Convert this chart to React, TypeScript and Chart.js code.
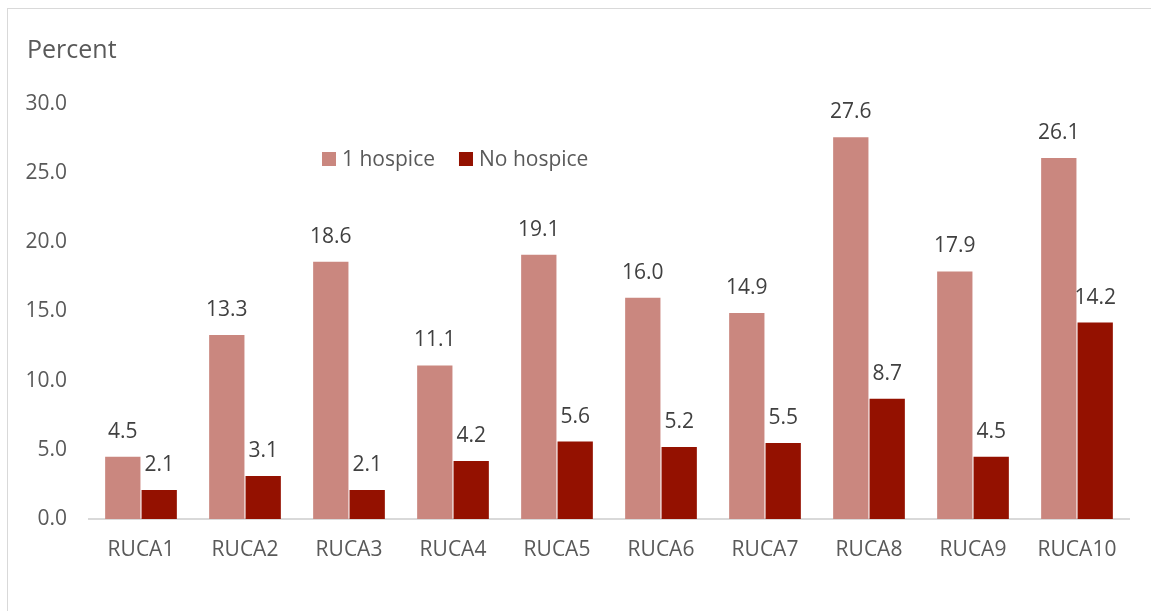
import React, { useEffect, useRef } from "react";
import { Chart, registerables } from "chart.js";

Chart.register(...registerables);

const categories = ["RUCA1", "RUCA2", "RUCA3", "RUCA4", "RUCA5", "RUCA6", "RUCA7", "RUCA8", "RUCA9", "RUCA10"];
const oneHospice = [4.5, 13.3, 18.6, 11.1, 19.1, 16.0, 14.9, 27.6, 17.9, 26.1];
const noHospice = [2.1, 3.1, 2.1, 4.2, 5.6, 5.2, 5.5, 8.7, 4.5, 14.2];
const seriesNames = ["1 hospice", "No hospice"];
const seriesColors = ["#CA877F", "#941100"];
const yTitle = "Percent";
const yMin = 0;
const yMax = 30;
const yStep = 5;

const FONT = "'Open Sans', 'Noto Sans', sans-serif";

const labelsPlugin = {
  id: "customText",
  afterDatasetsDraw(chart: any) {
    const ctx = chart.ctx;
    ctx.save();
    // data labels
    ctx.font = `21px ${FONT}`;
    ctx.fillStyle = "#404040";
    ctx.textAlign = "center";
    ctx.textBaseline = "alphabetic";
    chart.data.datasets.forEach((ds: any, di: number) => {
      const meta = chart.getDatasetMeta(di);
      meta.data.forEach((bar: any, i: number) => {
        ctx.fillText(Number(ds.data[i]).toFixed(1), bar.x, bar.y - 19);
      });
    });
    // title
    ctx.font = `25px ${FONT}`;
    ctx.fillStyle = "#595959";
    ctx.textAlign = "left";
    ctx.fillText(yTitle, 27, 58);
    // legend
    const area = chart.chartArea;
    ctx.font = `21px ${FONT}`;
    let x = area.left + 233;
    const top = 152;
    seriesNames.forEach((name, i) => {
      ctx.fillStyle = seriesColors[i];
      ctx.fillRect(x, top, 14, 14);
      ctx.fillStyle = "#595959";
      ctx.fillText(name, x + 20, top + 14);
      x += 20 + ctx.measureText(name).width + 24;
    });
    ctx.restore();
  },
};

export default function App() {
  const ref = useRef<HTMLCanvasElement | null>(null);
  useEffect(() => {
    if (!ref.current) return;
    const chart = new Chart(ref.current, {
      type: "bar",
      data: {
        labels: categories,
        datasets: [
          {
            label: seriesNames[0],
            data: oneHospice,
            backgroundColor: seriesColors[0],
            categoryPercentage: 0.7,
            barPercentage: 0.97,
          },
          {
            label: seriesNames[1],
            data: noHospice,
            backgroundColor: seriesColors[1],
            categoryPercentage: 0.7,
            barPercentage: 0.97,
          },
        ],
      },
      options: {
        responsive: false,
        animation: false,
        layout: { padding: { left: 0, right: 22, top: 104, bottom: 0 } },
        plugins: {
          legend: { display: false },
          tooltip: { enabled: false },
        },
        scales: {
          x: {
            grid: { display: false, drawTicks: false },
            border: { display: true, color: "#D9D9D9", width: 2 },
            ticks: {
              color: "#595959",
              font: { family: FONT, size: 21 },
              padding: 18,
              maxRotation: 0,
            },
            afterFit(scale: any) {
              scale.height = 92;
            },
          },
          y: {
            min: yMin,
            max: yMax,
            grid: { display: false, drawTicks: false },
            border: { display: false },
            ticks: {
              stepSize: yStep,
              color: "#595959",
              font: { family: FONT, size: 21 },
              padding: 22,
              callback: (v: any) => Number(v).toFixed(1),
            },
            afterFit(scale: any) {
              scale.width = 89;
            },
          },
        },
      },
      plugins: [labelsPlugin],
    });
    return () => chart.destroy();
  }, []);

  return (
    <div
      style={{
        position: "absolute",
        left: 0,
        top: 0,
        width: 1151,
        height: 611,
        overflow: "hidden",
        background: "#fff",
      }}
    >
      <div
        style={{
          position: "absolute",
          left: 7,
          top: 8,
          width: 1200,
          height: 700,
          border: "1px solid #D9D9D9",
          boxSizing: "border-box",
        }}
      />
      <canvas ref={ref} width={1151} height={611} style={{ position: "absolute", left: 0, top: 0 }} />
    </div>
  );
}
